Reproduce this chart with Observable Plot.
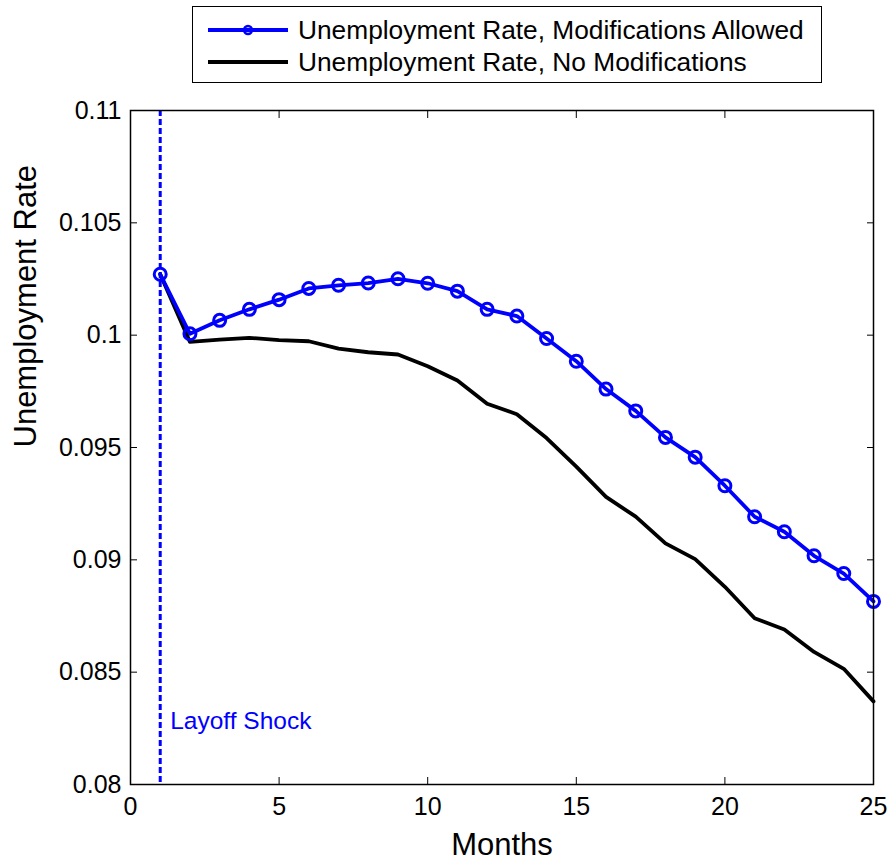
<!DOCTYPE html>
<html>
<head>
<meta charset="utf-8">
<script src="https://cdn.jsdelivr.net/npm/d3@7"></script>
<script src="https://cdn.jsdelivr.net/npm/@observablehq/plot@0.6"></script>
<style>
  html, body { margin: 0; padding: 0; background: #fff; }
  #wrap { position: relative; width: 893px; height: 865px; font-family: "Liberation Sans", Arial, sans-serif; }
  #legend { position: absolute; left: 192px; top: 6px; width: 628px; height: 75px; border: 1.5px solid #000; background: #fff; }
  .row { position: absolute; left: 0; height: 32px; display: flex; align-items: center; font-size: 26.3px; color: #000; white-space: nowrap; }
  .row svg { margin-left: 13px; margin-right: 8px; }
  #chart { position: absolute; left: 0; top: 90px; }
</style>
</head>
<body>
<div id="wrap">
  <div id="legend">
    <div class="row" style="top:7px"><svg width="84" height="16"><line x1="2" y1="8" x2="82" y2="8" stroke="#0000ff" stroke-width="4"/><circle cx="42" cy="8" r="4" fill="none" stroke="#0000ff" stroke-width="2.5"/></svg><span id="l1"></span></div>
    <div class="row" style="top:39px"><svg width="84" height="16"><line x1="2" y1="8" x2="82" y2="8" stroke="#000" stroke-width="4"/></svg><span id="l2"></span></div>
  </div>
  <div id="chart"></div>
</div>
<script>
const months = [1,2,3,4,5,6,7,8,9,10,11,12,13,14,15,16,17,18,19,20,21,22,23,24,25];
const rateAllowed = [0.10271, 0.10006, 0.10066, 0.10115, 0.10158, 0.10208, 0.10222, 0.10232, 0.10251, 0.10231, 0.10196, 0.10115, 0.10085, 0.09985, 0.09884, 0.0976, 0.09663, 0.09545, 0.09457, 0.0933, 0.09192, 0.09125, 0.09018, 0.08939, 0.08815];
const rateNoMods = [0.10271, 0.0997, 0.0998, 0.09988, 0.09978, 0.09973, 0.0994, 0.09924, 0.09914, 0.09862, 0.09798, 0.09695, 0.09648, 0.09542, 0.09415, 0.0928, 0.09192, 0.09073, 0.09003, 0.0888, 0.0874, 0.0869, 0.0859, 0.08515, 0.0837];
const seriesNames = ["Unemployment Rate, Modifications Allowed", "Unemployment Rate, No Modifications"];
const xTicks = [0, 5, 10, 15, 20, 25];
const yTicks = [0.08, 0.085, 0.09, 0.095, 0.1, 0.105, 0.11];
const shockMonth = [1];
const shockLabel = [{month: 1, rate: 0.0828, text: "Layoff Shock"}];
const xLabel = "Months";
const yLabel = "Unemployment Rate";

document.getElementById("l1").textContent = seriesNames[0];
document.getElementById("l2").textContent = seriesNames[1];

const allowedData = months.map((m, i) => ({month: m, rate: rateAllowed[i]}));
const noModsData = months.map((m, i) => ({month: m, rate: rateNoMods[i]}));

const chart = Plot.plot({
  width: 893,
  height: 775,
  marginLeft: 130,
  marginRight: 20,
  marginTop: 20,
  marginBottom: 81,
  style: {fontFamily: "'Liberation Sans', Arial, sans-serif", background: "#fff", color: "#000"},
  x: {domain: [0, 25]},
  y: {domain: [0.08, 0.11]},
  marks: [
    Plot.ruleX(shockMonth, {x: d => d, stroke: "#0000ff", strokeWidth: 3, strokeDasharray: "6,3"}),
    Plot.line(noModsData, {x: "month", y: "rate", stroke: "#000", strokeWidth: 3.8}),
    Plot.line(allowedData, {x: "month", y: "rate", stroke: "#0000ff", strokeWidth: 3.8}),
    Plot.dot(allowedData, {x: "month", y: "rate", r: 6, stroke: "#0000ff", strokeWidth: 3, fill: "none"}),
    Plot.text(shockLabel, {x: "month", y: "rate", text: "text", textAnchor: "start", dx: 10, fill: "#0000ff", fontSize: 24.5}),
    Plot.frame({stroke: "#000", strokeWidth: 1.5}),
    Plot.axisX({ticks: xTicks, tickSize: -7, tickPadding: 20, tickFormat: d => String(d), fontSize: 25, label: null}),
    Plot.axisX({anchor: "top", ticks: xTicks, tickSize: -7, tickFormat: () => "", label: null}),
    Plot.axisY({ticks: yTicks, tickSize: -7, tickPadding: 16, tickFormat: d => String(d), fontSize: 25, label: null}),
    Plot.axisY({anchor: "right", ticks: yTicks, tickSize: -7, tickFormat: () => "", label: null}),
    Plot.text([xLabel], {frameAnchor: "bottom", dy: 70, fontSize: 31, text: d => d}),
    Plot.text([yLabel], {frameAnchor: "left", rotate: -90, dx: -104, fontSize: 31, text: d => d})
  ]
});
document.getElementById("chart").appendChild(chart);
</script>
</body>
</html>
